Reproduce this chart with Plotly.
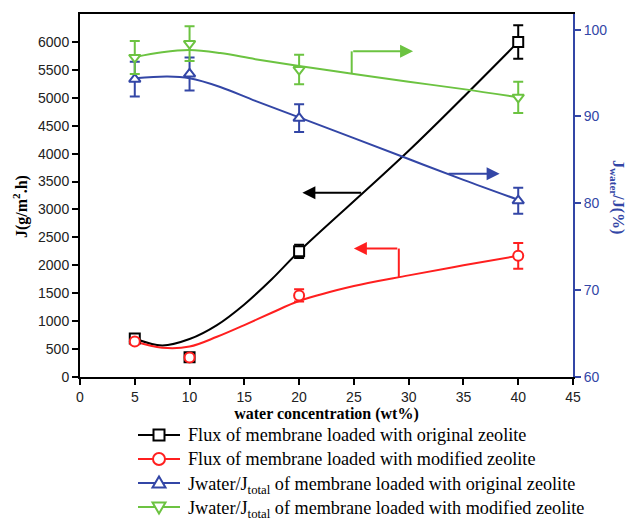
import plotly.graph_objects as go

# Water concentration (wt%) at which membranes were tested
conc = [5, 10, 20, 40]

# Permeation flux J (g/m2.h)
flux_orig = [690, 355, 2250, 6000]
flux_orig_err = [50, 40, 120, 300]
flux_mod = [635, 350, 1460, 2170]
flux_mod_err = [50, 40, 110, 230]

# Water selectivity Jwater/Jtotal (%)
sel_orig = [94.3, 94.9, 89.8, 80.3]
sel_orig_err = [2.0, 1.9, 1.6, 1.5]
sel_mod = [96.8, 98.4, 95.4, 92.2]
sel_mod_err = [1.9, 2.0, 1.7, 1.8]

# Smoothed trend lines (B-spline style) through each data set
fit_x_flux_orig = [5, 7.5, 10, 12.5, 15, 17.5, 20, 30, 40]
fit_y_flux_orig = [690, 565, 680, 930, 1300, 1750, 2250, 4050, 6000]
fit_x_flux_mod = [5, 7.5, 10, 12.5, 15, 17.5, 20, 25, 30, 35, 40]
fit_y_flux_mod = [635, 525, 545, 720, 930, 1150, 1360, 1630, 1820, 2000, 2170]
fit_x_sel_orig = [5, 8, 10, 12.8, 16, 20, 25, 30, 35, 40]
fit_y_sel_orig = [94.4, 94.6, 94.4, 93.4, 91.8, 89.9, 87.5, 85.1, 82.7, 80.4]
fit_x_sel_mod = [5, 7.5, 10, 12.8, 16, 20, 25, 30, 35, 40]
fit_y_sel_mod = [96.85, 97.4, 97.65, 97.3, 96.6, 95.8, 94.9, 94.0, 93.15, 92.2]

x_ticks = [0, 5, 10, 15, 20, 25, 30, 35, 40, 45]
y_ticks = [0, 500, 1000, 1500, 2000, 2500, 3000, 3500, 4000, 4500, 5000, 5500, 6000]
y2_ticks = [60, 70, 80, 90, 100]

BLACK = "#000000"
RED = "#ff1f1f"
BLUE = "#3346a6"
GREEN = "#6cc341"

SANS = "Arial, Liberation Sans, sans-serif"
SERIF = "Times New Roman, Liberation Serif, serif"

W, H = 631, 522
M_L, M_R, M_T, M_B = 80, 58, 14, 145
PLOT_W = W - M_L - M_R
PLOT_H = H - M_T - M_B


def px_to_paper(px, py):
    return (px - M_L) / PLOT_W, (H - M_B - py) / PLOT_H


series = [
    dict(name="Flux of membrane loaded with original zeolite", x=conc, y=flux_orig, e=flux_orig_err,
         fx=fit_x_flux_orig, fy=fit_y_flux_orig, color=BLACK, symbol="square", axis="y"),
    dict(name="Flux of membrane loaded with modified zeolite", x=conc, y=flux_mod, e=flux_mod_err,
         fx=fit_x_flux_mod, fy=fit_y_flux_mod, color=RED, symbol="circle", axis="y"),
    dict(name="Jwater/J<sub>total</sub> of membrane loaded with original zeolite", x=conc, y=sel_orig,
         e=sel_orig_err, fx=fit_x_sel_orig, fy=fit_y_sel_orig, color=BLUE, symbol="triangle-up", axis="y2"),
    dict(name="Jwater/J<sub>total</sub> of membrane loaded with modified zeolite", x=conc, y=sel_mod,
         e=sel_mod_err, fx=fit_x_sel_mod, fy=fit_y_sel_mod, color=GREEN, symbol="triangle-down", axis="y2"),
]

fig = go.Figure()

# trend curves
for s in series:
    fig.add_trace(go.Scatter(
        x=s["fx"], y=s["fy"], mode="lines", yaxis=s["axis"],
        line=dict(color=s["color"], width=2, shape="spline", smoothing=1.0),
        showlegend=False, hoverinfo="skip",
    ))

# measured points with error bars
for s in series:
    fig.add_trace(go.Scatter(
        x=s["x"], y=s["y"], mode="markers", yaxis=s["axis"], name=s["name"],
        marker=dict(symbol=s["symbol"], size=10, color="white",
                    line=dict(color=s["color"], width=2)),
        error_y=dict(type="data", array=s["e"], visible=True, color=s["color"],
                     thickness=2, width=5),
        showlegend=False,
    ))

# arrows pointing each curve to its axis
arrow_common = dict(showarrow=True, arrowhead=2, arrowsize=1.3, arrowwidth=2, text="",
                    axref="x")
fig.add_annotation(x=20.3, y=3300, ax=25.8, ay=3300, ayref="y", yref="y",
                   arrowcolor=BLACK, **arrow_common)
fig.add_shape(type="line", x0=29.1, x1=29.1, y0=1790, y1=2300, yref="y",
              line=dict(color=RED, width=2))
fig.add_annotation(x=25.0, y=2300, ax=29.1, ay=2300, ayref="y", yref="y",
                   arrowcolor=RED, **arrow_common)
fig.add_shape(type="line", x0=24.8, x1=24.8, y0=94.9, y1=97.5, yref="y2",
              line=dict(color=GREEN, width=2))
fig.add_annotation(x=30.4, y=97.5, ax=24.8, ay=97.5, ayref="y2", yref="y2",
                   arrowcolor=GREEN, **arrow_common)
fig.add_annotation(x=38.3, y=83.4, ax=33.5, ay=83.4, ayref="y2", yref="y2",
                   arrowcolor=BLUE, **arrow_common)

# axis titles placed as annotations
lx, ly = px_to_paper(21, 207)
fig.add_annotation(
    xref="paper", yref="paper", x=lx, y=ly, xanchor="center", yanchor="middle",
    showarrow=False, textangle=-90,
    text="<b>J(g/m<sup>2</sup>.h)</b>",
    font=dict(family=SERIF, size=16, color=BLACK),
)
rx, ry = px_to_paper(618, 197)
fig.add_annotation(
    xref="paper", yref="paper", x=rx, y=ry, xanchor="center", yanchor="middle",
    showarrow=False, textangle=90,
    text="<b>J<sub>water</sub>/J(%)</b>",
    font=dict(family=SERIF, size=16, color=BLUE),
)

# key below the axes: sample line, open marker and label for each series
KEY_ROWS = [435, 459, 483, 507]
KEY_X0, KEY_X1, KEY_MARK, KEY_TEXT = 138, 180, 159, 186
MARK_PATHS = {
    "square": "M -5.5 -5.5 L 5.5 -5.5 L 5.5 5.5 L -5.5 5.5 Z",
    "triangle-up": "M -6.5 -4.5 L 6.5 -4.5 L 0 6.5 Z",
    "triangle-down": "M -6.5 4.5 L 6.5 4.5 L 0 -6.5 Z",
}
for s, row in zip(series, KEY_ROWS):
    x0, yk = px_to_paper(KEY_X0, row)
    x1, _ = px_to_paper(KEY_X1, row)
    xm, _ = px_to_paper(KEY_MARK, row)
    xt, _ = px_to_paper(KEY_TEXT, row)
    fig.add_shape(type="line", xref="paper", yref="paper", x0=x0, x1=x1, y0=yk, y1=yk,
                  line=dict(color=s["color"], width=2))
    mark = dict(xref="paper", yref="paper", xsizemode="pixel", ysizemode="pixel",
                xanchor=xm, yanchor=yk, fillcolor="white",
                line=dict(color=s["color"], width=2))
    if s["symbol"] == "circle":
        fig.add_shape(type="circle", x0=-6, x1=6, y0=-6, y1=6, **mark)
    else:
        fig.add_shape(type="path", path=MARK_PATHS[s["symbol"]], **mark)
    has_sub = "<sub>" in s["name"]
    fig.add_annotation(
        xref="paper", yref="paper", x=xt, y=yk, xanchor="left", yanchor="middle",
        showarrow=False, text=s["name"], yshift=-2 if has_sub else 0,
        font=dict(family=SERIF, size=18.2, color=BLACK),
    )

fig.update_layout(
    width=W, height=H,
    margin=dict(l=M_L, r=M_R, t=M_T, b=M_B),
    paper_bgcolor="white", plot_bgcolor="white",
    font=dict(family=SANS, size=14, color="#222222"),
    xaxis=dict(
        range=[0, 45], tickvals=x_ticks, ticks="outside", ticklen=6, tickwidth=2,
        tickcolor=BLACK, showline=True, linecolor=BLACK, linewidth=2, mirror=True,
        showgrid=False, zeroline=False,
        title=dict(text="<b>water concentration (wt%)</b>", standoff=0,
                   font=dict(family=SERIF, size=16, color=BLACK)),
        tickfont=dict(family=SANS, size=14, color="#222222"),
    ),
    yaxis=dict(
        range=[0, 6500], tickvals=y_ticks, ticks="outside", ticklen=6, tickwidth=2,
        tickcolor=BLACK, showline=True, linecolor=BLACK, linewidth=2,
        showgrid=False, zeroline=False,
        tickfont=dict(family=SANS, size=14, color="#222222"),
    ),
    yaxis2=dict(
        range=[60, 101.8], tickvals=y2_ticks, overlaying="y", side="right",
        ticks="outside", ticklen=6, tickwidth=2, tickcolor=BLUE,
        showline=True, linecolor=BLUE, linewidth=2, showgrid=False, zeroline=False,
        tickfont=dict(family=SANS, size=14, color=BLUE),
    ),
    showlegend=False,
)

fig.write_html("out.html")
